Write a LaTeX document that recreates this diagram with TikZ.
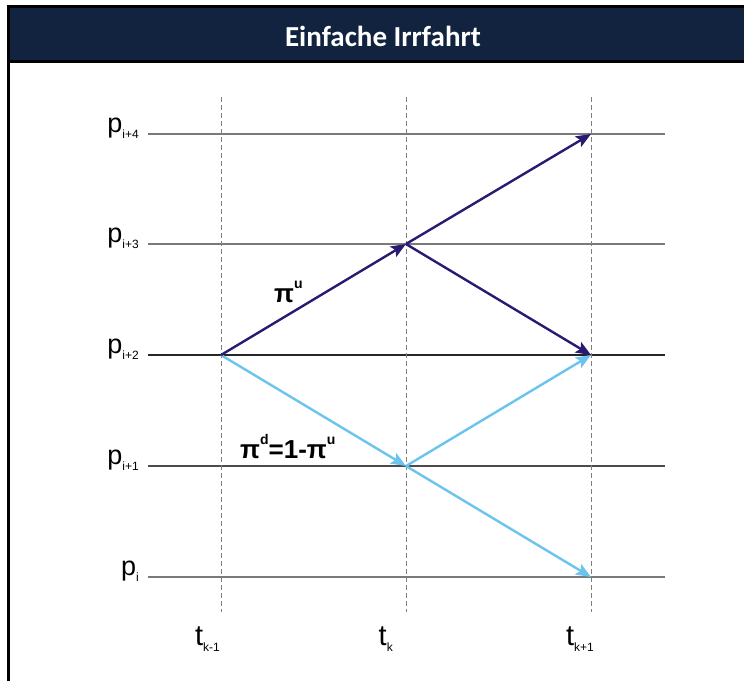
\documentclass[tikz,border=0pt]{standalone}
\usepackage{fontspec}
\setmainfont{Liberation Sans}
\newfontfamily\titlefont{Carlito}
\usetikzlibrary{arrows.meta, positioning}
\definecolor{irnavy}{HTML}{12233F}
\definecolor{irdark}{HTML}{2A1A72}
\definecolor{irlight}{HTML}{6CC4EE}
\definecolor{irgray}{HTML}{7A7A7A}
\newcommand{\lowsub}[2][6pt]{\raisebox{-#1}{\fontsize{12}{12}\selectfont #2}}
\newcommand{\highsup}[1]{\raisebox{14pt}{\fontsize{14}{14}\selectfont #1}}

\begin{document}
\begin{tikzpicture}[x=1pt, y=-1pt,
  level/.style={#1, line width=1.3pt},
  timeline/.style={gray, dash pattern=on 5pt off 3pt, line width=1pt},
  up/.style={-{Stealth[length=15pt, width=12pt, inset=3pt]}, line width=2.4pt, irdark},
  down/.style={-{Stealth[length=15pt, width=12pt, inset=3pt]}, line width=2.4pt, irlight},
  plabel/.style={font=\fontsize{27}{30}\selectfont, anchor=base east, inner sep=0pt},
  tlabel/.style={font=\fontsize{29}{32}\selectfont, anchor=base east, inner sep=0pt},
  prob/.style={font=\fontsize{26}{30}\selectfont\bfseries, anchor=base west, inner sep=0pt},
]
  \useasboundingbox (0,0) rectangle (744,681);

  % frame and title
  \fill[irnavy] (8,6) rectangle (744,61);
  \draw[black, line width=3pt] (744,6) -- (8.5,6) -- (8.5,681);
  \draw[black, line width=3pt] (8,61) -- (744,61);
  \node[text=white, font=\titlefont\fontsize{29}{32}\selectfont\bfseries] (title) at (383,36) {Einfache Irrfahrt};

  % price levels
  \foreach \y/\i/\c in {134/{i+4}/irgray, 244/{i+3}/irgray, 355/{i+2}/black!85, 466/{i+1}/black!70, 577/{i}/irgray} {
    \draw[level=\c] (148,\y) -- (665,\y);
    \node[plabel] at (139,\y-2) {p\lowsub{\i}};
  }

  % time steps
  \foreach \x in {221, 406, 591}
    \draw[timeline] (\x,97) -- (\x,612);
  \node[tlabel] (tkm) at (220,645) {t\lowsub{k-1}};
  \node[tlabel] (tk) at (393,645) {t\lowsub{k}};
  \node[tlabel] (tkp) at (594,645) {t\lowsub{k+1}};

  % lattice points
  \coordinate (s) at (221,355);
  \coordinate (u) at (406,244);
  \coordinate (d) at (406,466);
  \coordinate (uu) at (591,134);
  \coordinate (ud) at (591,355);
  \coordinate (dd) at (591,577);

  \draw[down] (s) -- (d);
  \draw[down] (d) -- (ud);
  \draw[down] (d) -- (dd);
  \draw[up] (s) -- (u);
  \draw[up] (u) -- (uu);
  \draw[up] (u) -- (ud);

  \node[prob] (piu) at (274,302) {π\highsup{u}};
  \node[prob] (pid) at (240,458) {π\highsup{d}=1-π\highsup{u}};
\end{tikzpicture}
\end{document}
